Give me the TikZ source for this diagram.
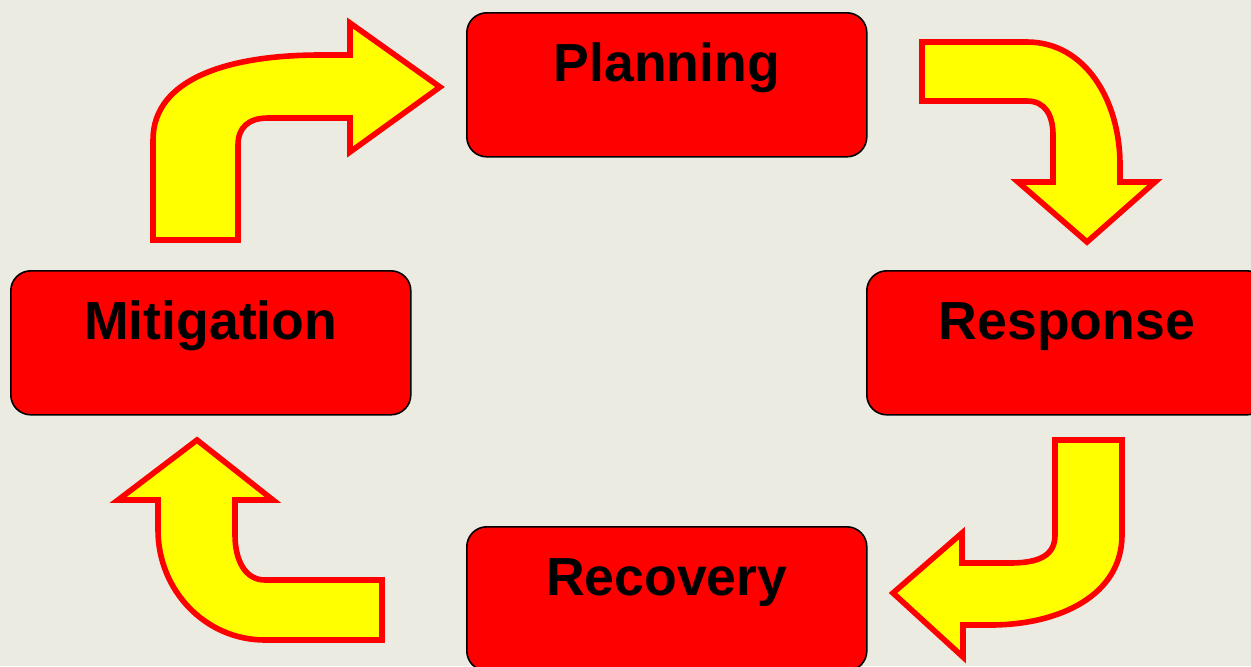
\documentclass[tikz,border=0pt]{standalone}
\usepackage{fontspec}
\setmainfont{Liberation Sans}
\usepackage{tikz}
\usetikzlibrary{calc,positioning,shapes}
\definecolor{paper}{HTML}{EBEBE1}
\definecolor{boxred}{HTML}{FF0000}
\definecolor{arrowy}{HTML}{FFFF00}
\definecolor{rimred}{HTML}{FF0000}

\tikzset{
  phase/.style={draw=black, line width=0.8pt, fill=boxred, rounded corners=10pt,
    anchor=north west, inner sep=0pt, minimum width=200pt,
    text height=34.5pt, text depth=37.5pt,
    font=\fontsize{26.8pt}{30pt}\selectfont\bfseries},
  cyclearrow/.style={fill=arrowy, draw=rimred, line width=2.8pt, line join=miter}
}

\begin{document}
\begin{tikzpicture}[x=0.5pt,y=-0.5pt]

    \fill[paper] (0,0) rectangle (1251,666);
    \useasboundingbox (0,0) rectangle (1251,666);
    \clip (0,0) rectangle (1251,666);

    \node[phase] (plan) at (466,12) {Planning};
    \node[phase] (miti) at (10,270) {Mitigation};
    \node[phase] (resp) at (866,270) {Response};
    \node[phase] (reco) at (466,526) {Recovery};

    % mitigation -> planning
    \draw[cyclearrow] (153,240) -- (153,140) .. controls (153,78) and (230,55) .. (320,55)
        -- (350,55) -- (350,23) -- (440,87) -- (350,152) -- (350,118) -- (268,118)
        .. controls (248,118) and (238,128) .. (238,145) -- (238,240) -- cycle;

    % planning -> response
    \draw[cyclearrow] (922,42) -- (1027,42) .. controls (1085,42) and (1120,100) .. (1120,165)
        -- (1120,182) -- (1155,182) -- (1087,242) -- (1018,182) -- (1053,182) -- (1053,135)
        .. controls (1053,115) and (1045,101) .. (1027,101) -- (922,101) -- cycle;

    % response -> recovery
    \draw[cyclearrow] (1055,440) -- (1122,440) -- (1122,535) .. controls (1122,595) and (1060,625) .. (990,625)
        -- (963,625) -- (963,657) -- (893,593) -- (962,533) -- (962,563) -- (1010,563)
        .. controls (1040,563) and (1055,555) .. (1055,535) -- cycle;

    % recovery -> mitigation
    \draw[cyclearrow] (382,580) -- (382,640) -- (265,640) .. controls (205,640) and (158,590) .. (158,530)
        -- (158,500) -- (118,500) -- (197,440) -- (273,500) -- (235,500) -- (235,535)
        .. controls (235,560) and (245,580) .. (265,580) -- cycle;

\end{tikzpicture}
\end{document}
